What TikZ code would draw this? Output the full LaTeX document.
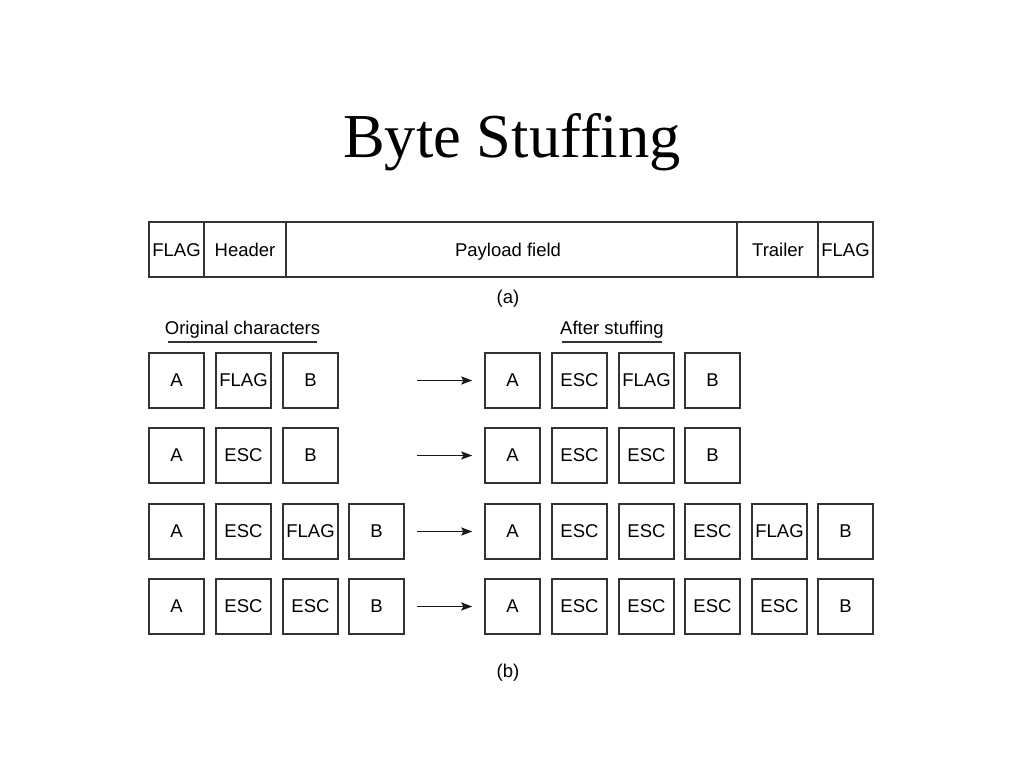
\documentclass[tikz,border=0pt]{standalone}
\usepackage{fontspec}
\usetikzlibrary{arrows.meta}
\setmainfont{Liberation Sans}
\newfontfamily\titlefont{Liberation Serif}
\begin{document}
\begin{tikzpicture}[x=1pt,y=-1pt,
  cell/.style={draw=black!80,line width=1.4pt,minimum width=55pt,minimum height=55pt,inner sep=0pt,font=\fontsize{18.5}{20}\selectfont},
  lbl/.style={font=\fontsize{18.5}{20}\selectfont,inner sep=0pt},
  arr/.style={-{Stealth[length=11pt,width=8pt,inset=2pt]},line width=1.8pt,black!90},
  frame/.style={draw=black!80,line width=1.4pt}]
\useasboundingbox (0,0) rectangle (1024,768);
\node[anchor=base,font=\titlefont\fontsize{62.5}{70}\selectfont] (title) at (512,157) {Byte Stuffing};
% (a) frame
\draw[frame] (149,222) rectangle (873,277);
\draw[frame] (204,222) -- (204,277);
\draw[frame] (286,222) -- (286,277);
\draw[frame] (737,222) -- (737,277);
\draw[frame] (818,222) -- (818,277);
\node[lbl,anchor=base] (f1) at (176.5,256) {FLAG};
\node[lbl,anchor=base] (hd) at (245,256) {Header};
\node[lbl,anchor=base] (pl) at (508,256) {Payload field};
\node[lbl,anchor=base] (tr) at (778,256) {Trailer};
\node[lbl,anchor=base] (f2) at (845.5,256) {FLAG};
\node[lbl,anchor=base] (la) at (508,303.5) {(a)};
% headings
\node[lbl,anchor=base] (orig) at (242.5,334.5) {Original characters};
\draw[line width=1.4pt,black!80] (168,342) -- (317,342);
\node[lbl,anchor=base] (after) at (612,334.5) {After stuffing};
\draw[line width=1.4pt,black!80] (562,342) -- (662,342);
% row 1
\node[cell] (r1a) at (176.5,380.5) {A};
\node[cell] (r1b) at (243.5,380.5) {FLAG};
\node[cell] (r1c) at (310.5,380.5) {B};
\coordinate (r1s) at (417,380.5);
\node[cell] (r1d) at (512.5,380.5) {A};
\node[cell] (r1e) at (579.5,380.5) {ESC};
\node[cell] (r1f) at (646.5,380.5) {FLAG};
\node[cell] (r1g) at (712.5,380.5) {B};
\draw[arr] (r1s) -- ([xshift=-12pt]r1d.west);
% row 2
\node[cell] (r2a) at (176.5,455.5) {A};
\node[cell] (r2b) at (243.5,455.5) {ESC};
\node[cell] (r2c) at (310.5,455.5) {B};
\coordinate (r2s) at (417,455.5);
\node[cell] (r2d) at (512.5,455.5) {A};
\node[cell] (r2e) at (579.5,455.5) {ESC};
\node[cell] (r2f) at (646.5,455.5) {ESC};
\node[cell] (r2g) at (712.5,455.5) {B};
\draw[arr] (r2s) -- ([xshift=-12pt]r2d.west);
% row 3
\node[cell] (r3a) at (176.5,531.5) {A};
\node[cell] (r3b) at (243.5,531.5) {ESC};
\node[cell] (r3c) at (310.5,531.5) {FLAG};
\node[cell] (r3d) at (376.5,531.5) {B};
\node[cell] (r3e) at (512.5,531.5) {A};
\node[cell] (r3f) at (579.5,531.5) {ESC};
\node[cell] (r3g) at (646.5,531.5) {ESC};
\node[cell] (r3h) at (712.5,531.5) {ESC};
\node[cell] (r3i) at (779.5,531.5) {FLAG};
\node[cell] (r3j) at (845.5,531.5) {B};
\draw[arr] ([xshift=12pt]r3d.east) -- ([xshift=-12pt]r3e.west);
% row 4
\node[cell] (r4a) at (176.5,606.5) {A};
\node[cell] (r4b) at (243.5,606.5) {ESC};
\node[cell] (r4c) at (310.5,606.5) {ESC};
\node[cell] (r4d) at (376.5,606.5) {B};
\node[cell] (r4e) at (512.5,606.5) {A};
\node[cell] (r4f) at (579.5,606.5) {ESC};
\node[cell] (r4g) at (646.5,606.5) {ESC};
\node[cell] (r4h) at (712.5,606.5) {ESC};
\node[cell] (r4i) at (779.5,606.5) {ESC};
\node[cell] (r4j) at (845.5,606.5) {B};
\draw[arr] ([xshift=12pt]r4d.east) -- ([xshift=-12pt]r4e.west);
\node[lbl,anchor=base] (lb) at (508,677.5) {(b)};
\end{tikzpicture}
\end{document}
